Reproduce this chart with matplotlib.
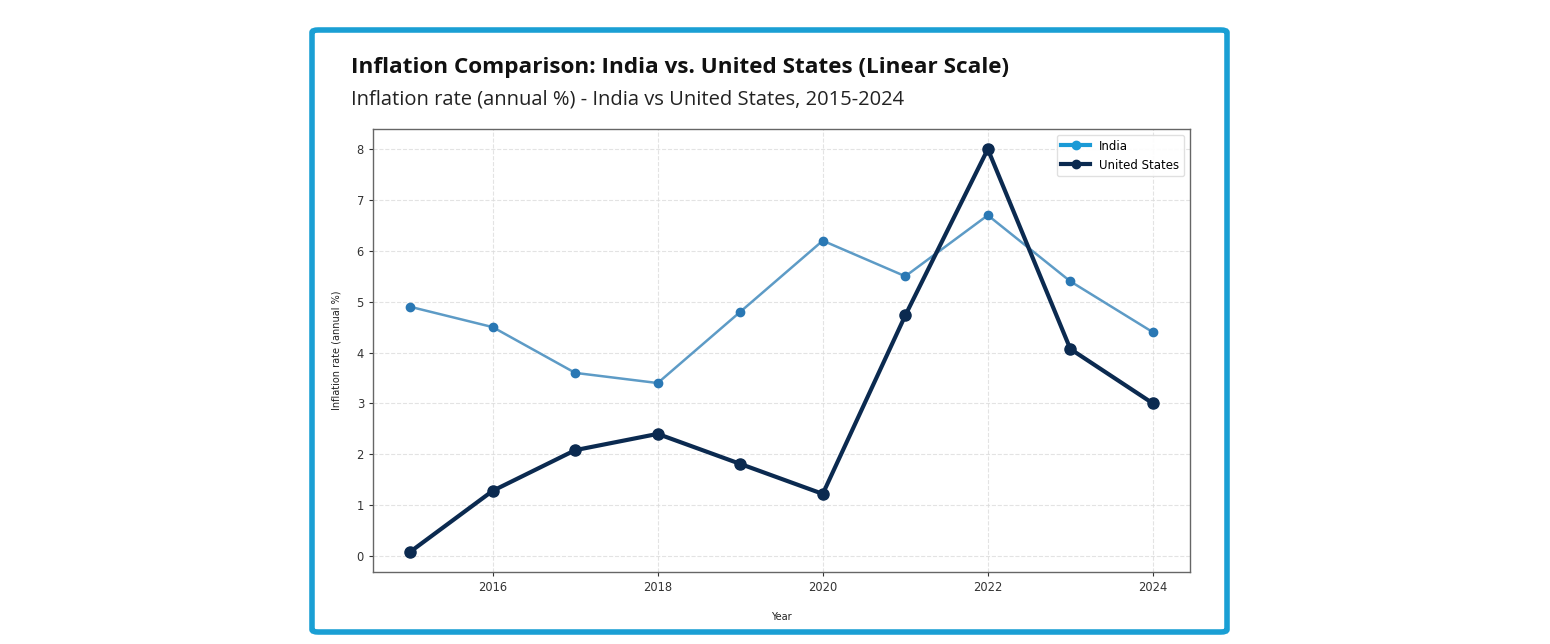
import matplotlib
matplotlib.use("Agg")
import matplotlib.pyplot as plt
from matplotlib.patches import FancyBboxPatch
from matplotlib.lines import Line2D

years = [2015, 2016, 2017, 2018, 2019, 2020, 2021, 2022, 2023, 2024]
india = [4.9, 4.5, 3.6, 3.4, 4.8, 6.2, 5.5, 6.7, 5.4, 4.4]
usa = [0.08, 1.28, 2.08, 2.4, 1.81, 1.22, 4.73, 8.0, 4.07, 3.0]
series_names = ["India", "United States"]
title = "Inflation Comparison: India vs. United States (Linear Scale)"
subtitle = "Inflation rate (annual %) - India vs United States, 2015-2024"
xticks = [2016, 2018, 2020, 2022, 2024]
yticks = [0, 1, 2, 3, 4, 5, 6, 7, 8]

W, H = 1550, 644
fig = plt.figure(figsize=(W / 100, H / 100), dpi=100)
fig.patch.set_facecolor("white")

# outer card border
card = FancyBboxPatch((312 / W, 1 - 632 / H), (1227 - 312) / W, (632 - 30) / H,
                      boxstyle="round,pad=0,rounding_size=0.004",
                      transform=fig.transFigure, facecolor="white",
                      edgecolor="#1a9fd4", linewidth=4.0, zorder=-1)
fig.patches.append(card)

fig.text(351 / W, 1 - 67 / H, title, fontsize=16.2, fontweight="bold",
         family="Open Sans", color="#111111", va="center", ha="left")
fig.text(351 / W, 1 - 100 / H, subtitle, fontsize=14.5,
         family="Open Sans", color="#222222", va="center", ha="left")

ax = fig.add_axes([373 / W, 1 - 572 / H, (1190 - 373) / W, (572 - 129) / H])
ax.set_facecolor("white")
ax.set_zorder(1)

ax.plot(years, india, color="#5d9bc6", linewidth=1.8, zorder=2)
ax.plot(years, india, linestyle="none", marker="o", markersize=6,
        color="#2a78b4", zorder=3)
ax.plot(years, usa, color="#0b2a50", linewidth=3, marker="o", markersize=8, zorder=4)

ax.set_xticks(xticks)
ax.set_yticks(yticks)
ax.grid(True, linestyle="--", color="#dcdcdc", linewidth=0.8, alpha=0.8)
ax.set_axisbelow(True)
ax.tick_params(labelsize=8.3, colors="#333333", length=3)
for s in ax.spines.values():
    s.set_color("#666666")
    s.set_linewidth(1.0)

ax.set_xlabel("Year", fontsize=7, color="#222222", labelpad=13)
ax.set_ylabel("Inflation rate (annual %)", fontsize=7, color="#222222", labelpad=11)

handles = [Line2D([], [], color="#1a9ad6", linewidth=3, marker="o", markersize=6),
           Line2D([], [], color="#0b2a50", linewidth=3, marker="o", markersize=6)]
leg = ax.legend(handles, series_names, loc="upper right", fontsize=8.5,
                frameon=True, framealpha=0.9, edgecolor="#dddddd", handlelength=2.4)

fig.savefig("out.png", dpi=100, facecolor="white")
